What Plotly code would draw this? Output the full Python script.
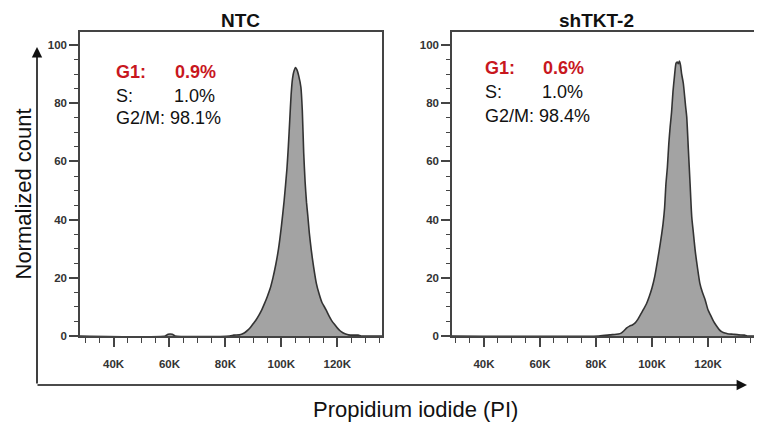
import plotly.graph_objects as go

# ---------------- data ----------------
ntc_pi = [28, 58.5, 59.5, 61, 62, 81.5, 83, 85, 86, 87, 88, 89, 90, 91, 92, 93, 94, 95, 96, 97,
          98, 99, 100, 101, 102, 102.5, 103, 103.5, 104, 104.5, 105.1, 105.6, 106.2, 107, 107.5,
          108, 108.5, 109, 109.5, 110, 110.7, 111.5, 112.5, 113.5, 114.5, 116, 117, 118, 119, 120,
          121, 122, 123, 124, 126, 127.5, 128.5, 136]
ntc_count = [0, 0, 0.6, 0.6, 0, 0, 0.3, 0.4, 0.7, 1.2, 2.0, 3.0, 4.3, 5.6, 7.2, 9.0, 11.2, 13.6,
             16.3, 20.0, 24.5, 30.0, 37.5, 46.5, 57.5, 65.0, 74.0, 83.0, 88.5, 91.0, 92.3, 91.5,
             89.5, 85.5, 77.5, 63.0, 53.0, 46.0, 41.0, 35.5, 29.6, 24.0, 18.2, 14.5, 11.6, 9.0,
             7.0, 5.3, 4.0, 2.8, 1.8, 1.1, 0.7, 0.4, 0.3, 0.3, 0, 0]

sh_pi = [28, 81, 85, 88, 89, 90, 91, 92, 93, 94, 95, 96, 97, 98, 99, 100, 101, 102, 103, 103.5,
         104, 104.5, 105, 105.5, 106, 106.5, 107, 107.5, 108, 108.6, 109, 109.4, 109.8, 110.2,
         110.6, 111.2, 112, 112.4, 113, 113.6, 114.2, 114.8, 115.4, 116.2, 117.1, 118, 119, 120,
         121, 122, 123, 124, 125, 126, 127, 129, 131, 133, 134, 137.5]
sh_count = [0, 0, 0.4, 0.7, 1.0, 1.8, 2.8, 3.4, 3.8, 4.5, 5.8, 7.5, 9.2, 11.0, 13.5, 16.5, 20.5,
            26.0, 32.0, 35.3, 39.0, 44.0, 52.5, 58.0, 66.0, 72.0, 77.0, 84.0, 89.0, 93.8, 94.2,
            93.6, 94.5, 93.0, 90.0, 86.8, 79.0, 75.4, 64.0, 52.5, 41.0, 35.3, 29.6, 23.8, 18.1,
            15.0, 12.4, 9.0, 7.0, 5.0, 3.5, 2.2, 1.4, 1.0, 0.8, 0.6, 0.4, 0.3, 0, 0]

panel_titles = ["NTC", "shTKT-2"]
g1_values = ["0.9%", "0.6%"]
s_values = ["1.0%", "1.0%"]
g2m_values = ["98.1%", "98.4%"]

x_tickvals = [40, 60, 80, 100, 120]
x_ticktext = ["40K", "60K", "80K", "100K", "120K"]
y_tickvals = [0, 20, 40, 60, 80, 100]
y_ticktext = ["0", "20", "40", "60", "80", "100"]

# ---------------- figure ----------------
# The page body has an 8px margin, so the figure is drawn at (8, 8) in the window.
OFF = 8
W, H = 762 - OFF, 430 - OFF
FONT = "Liberation Sans, Arial, Helvetica, sans-serif"
FRAME = "#444444"

def px(x):
    return (x - OFF) / W

def py(y):
    return (H - (y - OFF)) / H

fig = go.Figure()

fill_col = "rgba(163,163,163,1)"
line_col = "#333333"

fig.add_trace(go.Scatter(x=ntc_pi, y=ntc_count, mode="lines", fill="tozeroy",
                         fillcolor=fill_col, line=dict(color=line_col, width=1.6, shape="spline", smoothing=0.6),
                         xaxis="x", yaxis="y", showlegend=False, hoverinfo="skip"))
fig.add_trace(go.Scatter(x=sh_pi, y=sh_count, mode="lines", fill="tozeroy",
                         fillcolor=fill_col, line=dict(color=line_col, width=1.6, shape="spline", smoothing=0.6),
                         xaxis="x2", yaxis="y2", showlegend=False, hoverinfo="skip"))

ydom = [py(336), py(32)]
TICKFONT = dict(family=FONT, size=11.5, color="#333333", weight="bold")

def xaxis(dom, rng):
    return dict(domain=dom, range=rng, showline=True, linecolor=FRAME, linewidth=1.5, mirror=True,
                ticks="outside", ticklen=9, tickwidth=1.5, tickcolor=FRAME,
                tickvals=x_tickvals, ticktext=x_ticktext,
                tickfont=TICKFONT,
                ticklabelstandoff=7, automargin=False,
                minor=dict(dtick=5, tick0=0, ticks="outside", ticklen=5, tickwidth=1, tickcolor=FRAME),
                showgrid=False, zeroline=False, fixedrange=True)

def yaxis(anchor):
    return dict(domain=ydom, range=[0, 104.5], anchor=anchor, showline=True, linecolor=FRAME,
                linewidth=1.5, mirror=True, ticks="outside", ticklen=9, tickwidth=1.5,
                tickcolor=FRAME, tickvals=y_tickvals, ticktext=y_ticktext,
                tickfont=TICKFONT, automargin=False,
                minor=dict(dtick=5, tick0=0, ticks="outside", ticklen=4, tickwidth=1, tickcolor=FRAME),
                showgrid=False, zeroline=False, fixedrange=True)

fig.update_layout(
    width=W, height=H,
    margin=dict(l=0, r=0, t=0, b=0, autoexpand=False),
    paper_bgcolor="white", plot_bgcolor="white",
    xaxis=xaxis([px(80), px(382)], [28, 136]) | dict(anchor="y"),
    yaxis=yaxis("x"),
    xaxis2=xaxis([px(452), px(757)], [28.6, 137.5]) | dict(anchor="y2"),
    yaxis2=yaxis("x2"),
)

annotations = []
# panel titles
for title, cx in zip(panel_titles, [240, 596]):
    annotations.append(dict(text=f"<b>{title}</b>", x=px(cx), y=py(8), xref="paper", yref="paper",
                            xanchor="center", yanchor="top", showarrow=False,
                            font=dict(family=FONT, size=19, color="#111111")))

RED = "#c8171e"
layout_rows = [
    # (label_x, value_x, row centers)
    (114, 173, [72, 96, 118]),
    (483, 541, [68, 92, 116]),
]
for i, (lx, vx, rows) in enumerate(layout_rows):
    annotations.append(dict(text="<b>G1:</b>", x=px(lx), y=py(rows[0]), xref="paper", yref="paper",
                            xanchor="left", yanchor="middle", showarrow=False,
                            font=dict(family=FONT, size=18, color=RED)))
    annotations.append(dict(text=f"<b>{g1_values[i]}</b>", x=px(vx), y=py(rows[0]), xref="paper", yref="paper",
                            xanchor="left", yanchor="middle", showarrow=False,
                            font=dict(family=FONT, size=18, color=RED)))
    annotations.append(dict(text="S:", x=px(lx), y=py(rows[1]), xref="paper", yref="paper",
                            xanchor="left", yanchor="middle", showarrow=False,
                            font=dict(family=FONT, size=18, color="#111111")))
    annotations.append(dict(text=s_values[i], x=px(vx - 1), y=py(rows[1]), xref="paper", yref="paper",
                            xanchor="left", yanchor="middle", showarrow=False,
                            font=dict(family=FONT, size=18, color="#111111")))
    annotations.append(dict(text=f"G2/M: {g2m_values[i]}", x=px(lx), y=py(rows[2]), xref="paper", yref="paper",
                            xanchor="left", yanchor="middle", showarrow=False,
                            font=dict(family=FONT, size=18, color="#111111")))

# axis titles
annotations.append(dict(text="Normalized count", x=px(8), y=py(194), xref="paper", yref="paper",
                        xanchor="left", yanchor="middle", textangle=-90, showarrow=False,
                        font=dict(family=FONT, size=22, color="#111111")))
annotations.append(dict(text="Propidium iodide (PI)", x=px(415), y=py(409), xref="paper", yref="paper",
                        xanchor="center", yanchor="middle", showarrow=False,
                        font=dict(family=FONT, size=22, color="#111111")))

# big arrows
annotations.append(dict(text="", x=px(37), y=py(47), xref="paper", yref="paper",
                        ax=0, ay=338, axref="pixel", ayref="pixel", showarrow=True,
                        arrowhead=2, arrowsize=1.3, arrowwidth=1.6, arrowcolor="#111111", standoff=0))
annotations.append(dict(text="", x=px(747), y=py(385), xref="paper", yref="paper",
                        ax=-711, ay=0, axref="pixel", ayref="pixel", showarrow=True,
                        arrowhead=2, arrowsize=1.3, arrowwidth=1.6, arrowcolor="#111111", standoff=0))

fig.update_layout(annotations=annotations)

fig.write_html("out.html")
